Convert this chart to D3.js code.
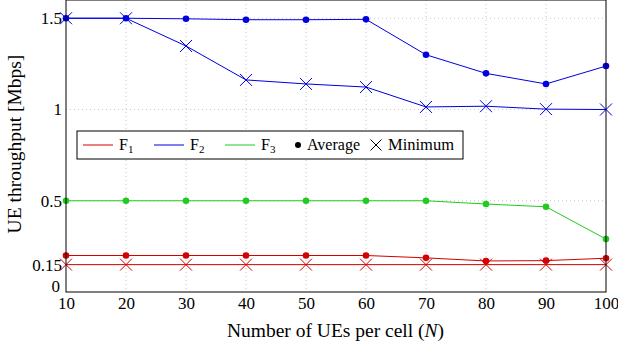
<!DOCTYPE html>
<html>
<head>
<meta charset="utf-8">
<script src="https://cdn.jsdelivr.net/npm/d3@7"></script>
<style>
  body { margin: 0; background: #fff; }
  svg text { font-family: "Liberation Serif", "Times New Roman", serif; fill: #000; }
</style>
</head>
<body>
<svg id="chart" width="618" height="349"></svg>
<script>
// users per cell
const nValues = [10, 20, 30, 40, 50, 60, 70, 80, 90, 100];

// throughput in Mbps
const f1Average = [0.2, 0.2, 0.2, 0.2, 0.2, 0.2, 0.187, 0.17, 0.172, 0.185];
const f1Minimum = [0.15, 0.15, 0.15, 0.15, 0.15, 0.15, 0.15, 0.15, 0.15, 0.15];
const f2Average = [1.5, 1.5, 1.497, 1.492, 1.492, 1.494, 1.3, 1.198, 1.14, 1.238];
const f2Minimum = [1.5, 1.5, 1.348, 1.162, 1.14, 1.123, 1.014, 1.018, 1.002, 1.0];
const f3Average = [0.5, 0.5, 0.5, 0.5, 0.5, 0.5, 0.5, 0.482, 0.467, 0.29];

const yTicks = [0, 0.15, 0.5, 1, 1.5];
const xTicks = nValues;

const seriesList = [
  { name: "F", sub: "1", color: "#d40000", avg: f1Average, min: f1Minimum },
  { name: "F", sub: "2", color: "#0000e0", avg: f2Average, min: f2Minimum },
  { name: "F", sub: "3", color: "#1fcc1f", avg: f3Average, min: null }
];

const margin = { top: 0, right: 12, bottom: 57, left: 66 };
const width = 618 - margin.left - margin.right;
const height = 349 - margin.top - margin.bottom;
const serif = '"Liberation Serif", "Times New Roman", serif';

const svg = d3.select('#chart');
const g = svg.append('g').attr('transform', `translate(${margin.left},${margin.top})`);

const xScale = d3.scaleLinear().domain([10, 100]).range([0, width]);
const yScale = d3.scaleLinear().domain([0, 1.6]).range([height, 0]);

// dotted grid
g.append('g')
  .selectAll('line')
  .data(xTicks.slice(1, -1))
  .join('line')
  .attr('x1', d => xScale(d)).attr('x2', d => xScale(d))
  .attr('y1', 0).attr('y2', height)
  .attr('stroke', '#b8b8b8').attr('stroke-width', 0.8)
  .attr('stroke-dasharray', '1,3');

g.append('g')
  .selectAll('line')
  .data(yTicks.slice(1))
  .join('line')
  .attr('x1', 0).attr('x2', width)
  .attr('y1', d => yScale(d)).attr('y2', d => yScale(d))
  .attr('stroke', '#b8b8b8').attr('stroke-width', 0.8)
  .attr('stroke-dasharray', '1,3');

// axes (labels only, pgfplots style)
const xAxis = g.append('g')
  .attr('transform', `translate(0,${height})`)
  .call(d3.axisBottom(xScale).tickValues(xTicks).tickSize(0).tickPadding(5));
xAxis.attr('font-family', serif);
xAxis.select('.domain').remove();
xAxis.selectAll('text').style('font-size', '17px').attr('fill', '#000');

const yAxis = g.append('g')
  .call(d3.axisLeft(yScale).tickValues(yTicks).tickFormat(d => String(d)).tickSize(0).tickPadding(4));
yAxis.attr('font-family', serif);
yAxis.select('.domain').remove();
yAxis.selectAll('text').style('font-size', '17px').attr('fill', '#000');
// lift the "0" so it clears the "10" below it
yAxis.selectAll('.tick').filter(d => d === 0).select('text').attr('dy', '-0.05em').attr('x', -6);

// lines and markers
const line = d3.line()
  .x((d, i) => xScale(nValues[i]))
  .y(d => yScale(d));

function drawCross(sel, color, size) {
  sel.append('path')
    .attr('d', `M${-size},${-size}L${size},${size}M${-size},${size}L${size},${-size}`)
    .attr('stroke', color).attr('stroke-width', 1).attr('fill', 'none');
}

seriesList.forEach(s => {
  if (s.min) {
    g.append('path').datum(s.min)
      .attr('d', line).attr('fill', 'none')
      .attr('stroke', s.color).attr('stroke-width', 1);
    g.append('g').selectAll('g')
      .data(s.min)
      .join('g')
      .attr('transform', (d, i) => `translate(${xScale(nValues[i])},${yScale(d)})`)
      .each(function () { drawCross(d3.select(this), s.color, 6); });
  }
  g.append('path').datum(s.avg)
    .attr('d', line).attr('fill', 'none')
    .attr('stroke', s.color).attr('stroke-width', 1);
  g.append('g').selectAll('circle')
    .data(s.avg)
    .join('circle')
    .attr('cx', (d, i) => xScale(nValues[i]))
    .attr('cy', d => yScale(d))
    .attr('r', 3.3)
    .attr('fill', s.color);
});

// frame
g.append('rect')
  .attr('x', 0).attr('y', 0).attr('width', width).attr('height', height)
  .attr('fill', 'none').attr('stroke', '#000').attr('stroke-width', 1);

// axis titles
svg.append('text')
  .attr('x', 335.5).attr('y', 337)
  .attr('text-anchor', 'middle').style('font-size', '19.5px')
  .html('Number of UEs per cell (<tspan font-style="italic">N</tspan>)');

svg.append('text')
  .attr('transform', `translate(21,144) rotate(-90)`)
  .attr('text-anchor', 'middle').style('font-size', '19.5px')
  .text('UE throughput [Mbps]');

// legend
const legend = svg.append('g');
legend.append('rect')
  .attr('x', 77).attr('y', 131).attr('width', 386).attr('height', 28)
  .attr('fill', '#fff').attr('stroke', '#000').attr('stroke-width', 1);

const legendY = 145;
const legendLineX = [83, 154, 225];
seriesList.forEach((s, i) => {
  legend.append('line')
    .attr('x1', legendLineX[i]).attr('x2', legendLineX[i] + 30)
    .attr('y1', legendY).attr('y2', legendY)
    .attr('stroke', s.color).attr('stroke-width', 1);
  const t = legend.append('text')
    .attr('x', legendLineX[i] + 36).attr('y', legendY + 5)
    .style('font-size', '16px');
  t.append('tspan').text(s.name);
  t.append('tspan').attr('dy', 3).style('font-size', '11px').text(s.sub);
});

legend.append('circle').attr('cx', 298).attr('cy', legendY).attr('r', 3).attr('fill', '#000');
legend.append('text').attr('x', 307).attr('y', legendY + 5).style('font-size', '16px').text('Average');
legend.append('g').attr('transform', `translate(376,${legendY})`)
  .call(sel => drawCross(sel, '#000', 5.5));
legend.append('text').attr('x', 388).attr('y', legendY + 5).style('font-size', '16.5px').text('Minimum');
</script>
</body>
</html>
